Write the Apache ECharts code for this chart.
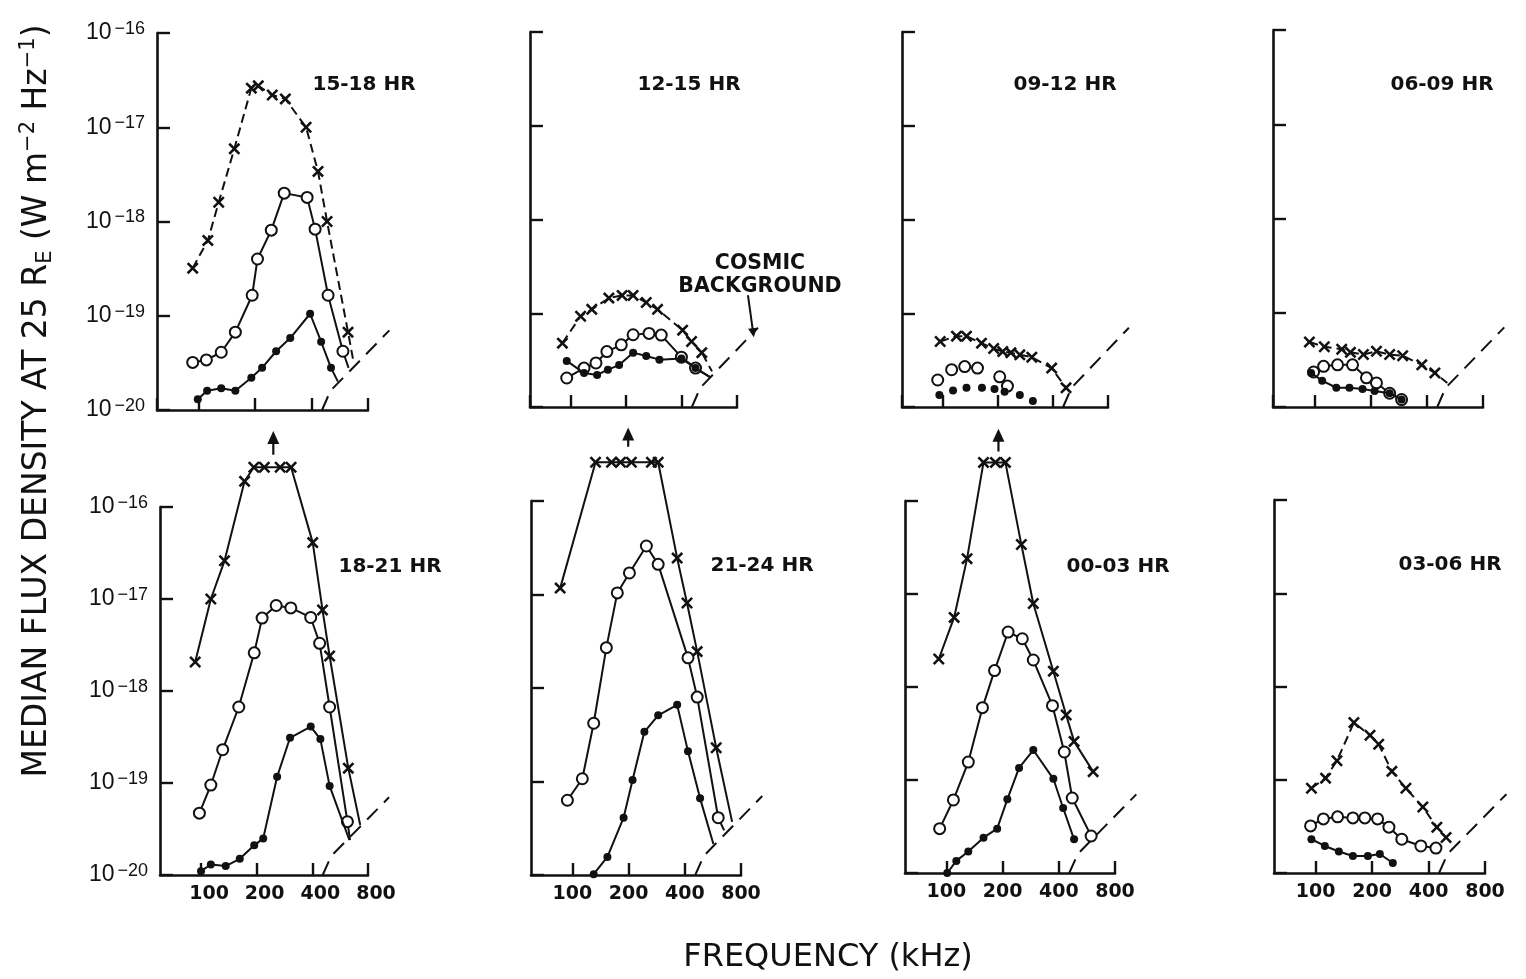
<!DOCTYPE html>
<html>
<head>
<meta charset="utf-8">
<script src="https://cdn.jsdelivr.net/npm/echarts@6/dist/echarts.min.js"></script>
<style>
html,body{margin:0;padding:0;background:#fff;}
#chart{width:1526px;height:979px;}
</style>
</head>
<body>
<div id="chart"></div>
<script>
// ---------------- DATA (frequency in kHz, flux in W m^-2 Hz^-1) ----------------
const PANEL_TITLES = ['15-18 HR', '12-15 HR', '09-12 HR', '06-09 HR', '18-21 HR', '21-24 HR', '00-03 HR', '03-06 HR'];
const X_TICK_LABELS_KHZ = [100, 200, 400, 800];
const Y_TICK_EXPONENTS = [-20, -19, -18, -17, -16];

// cosmic background (dashed curve), same in every panel
const COSMIC_F = [455, 505, 1040];
const COSMIC_V = [1.0e-20, 1.6e-20, 7.0e-20];
// "COSMIC BACKGROUND" pointer (12-15 HR panel)
const COSMIC_LABEL = 'COSMIC\nBACKGROUND';
const COSMIC_POINTER_F = [918, 979];
const COSMIC_POINTER_V = [1.55e-19, 6.2e-20];

// 15-18 HR
const P1_CROSS_F = [93, 112, 128, 155, 191, 208, 247, 290, 374, 433, 484, 626];
const P1_CROSS_V = [3.2e-19, 6.3e-19, 1.6e-18, 5.9e-18, 2.6e-17, 2.75e-17, 2.2e-17, 2.0e-17, 1.0e-17, 3.4e-18, 1.0e-18, 6.7e-20];
const P1_CROSS_END = [665, 3.5e-20];
const P1_OPEN_F = [93, 110, 132, 157, 193, 206, 244, 286, 379, 418, 490, 588];
const P1_OPEN_V = [3.2e-20, 3.4e-20, 4.1e-20, 6.7e-20, 1.65e-19, 4.0e-19, 8.1e-19, 2.0e-18, 1.8e-18, 8.3e-19, 1.65e-19, 4.2e-20];
const P1_OPEN_END = [630, 2.8e-20];
const P1_DOT_F = [99, 111, 132, 157, 191, 218, 259, 308, 393, 450, 508];
const P1_DOT_V = [1.3e-20, 1.6e-20, 1.7e-20, 1.6e-20, 2.2e-20, 2.8e-20, 4.2e-20, 5.8e-20, 1.05e-19, 5.3e-20, 2.8e-20];
const P1_DOT_END = [553, 2.0e-20];

// 12-15 HR
const P2_CROSS_F = [90, 113, 130, 161, 190, 218, 257, 296, 405, 453, 515];
const P2_CROSS_V = [4.8e-20, 9.3e-20, 1.1e-19, 1.45e-19, 1.55e-19, 1.55e-19, 1.3e-19, 1.1e-19, 6.6e-20, 5.0e-20, 3.8e-20];
const P2_CROSS_END = [585, 2.4e-20];
const P2_OPEN_F = [95, 118, 137, 157, 188, 218, 266, 310, 399, 476];
const P2_OPEN_V = [2.04e-20, 2.6e-20, 2.95e-20, 3.9e-20, 4.6e-20, 5.9e-20, 6.1e-20, 5.85e-20, 3.4e-20, 2.6e-20];
const P2_OPEN_END = [568, 2.1e-20];
const P2_DOT_F = [95, 118, 139, 159, 183, 218, 257, 303, 399, 476];
const P2_DOT_V = [3.1e-20, 2.3e-20, 2.2e-20, 2.5e-20, 2.8e-20, 3.8e-20, 3.5e-20, 3.2e-20, 3.3e-20, 2.6e-20];
const P2_DOT_END = [568, 2.1e-20];

// 09-12 HR
const P3_CROSS_F = [97, 119, 135, 163, 190, 213, 236, 264, 307, 394, 472];
const P3_CROSS_V = [5.0e-20, 5.7e-20, 5.7e-20, 4.8e-20, 4.2e-20, 3.9e-20, 3.8e-20, 3.6e-20, 3.4e-20, 2.6e-20, 1.6e-20];
const P3_OPEN_F = [94, 112, 132, 155, 205, 226];
const P3_OPEN_V = [1.94e-20, 2.5e-20, 2.7e-20, 2.6e-20, 2.1e-20, 1.67e-20];
const P3_DOT_F = [96, 114, 135, 164, 192, 218, 264, 311];
const P3_DOT_V = [1.34e-20, 1.5e-20, 1.6e-20, 1.6e-20, 1.56e-20, 1.45e-20, 1.34e-20, 1.16e-20];

// 06-09 HR
const P4_CROSS_F = [94, 113, 140, 156, 183, 215, 253, 297, 376, 442];
const P4_CROSS_V = [4.9e-20, 4.35e-20, 4.1e-20, 3.8e-20, 3.6e-20, 3.9e-20, 3.6e-20, 3.5e-20, 2.8e-20, 2.3e-20];
const P4_CROSS_END = [515, 1.8e-20];
const P4_OPEN_F = [99, 112, 133, 160, 190, 215, 253, 293];
const P4_OPEN_V = [2.35e-20, 2.7e-20, 2.8e-20, 2.8e-20, 2.04e-20, 1.8e-20, 1.4e-20, 1.2e-20];
const P4_DOT_F = [96, 110, 131, 154, 181, 210, 253, 293];
const P4_DOT_V = [2.3e-20, 1.9e-20, 1.6e-20, 1.6e-20, 1.55e-20, 1.48e-20, 1.4e-20, 1.2e-20];

// 18-21 HR
const P5_CROSS_F = [93, 113, 134, 172, 193, 220, 268, 307, 402, 454, 496, 626];
const P5_CROSS_V = [2.07e-18, 1.0e-17, 2.6e-17, 1.9e-16, 2.7e-16, 2.7e-16, 2.7e-16, 2.7e-16, 4.1e-17, 7.6e-18, 2.4e-18, 1.45e-19];
const P5_CROSS_END = [726, 3.5e-20];
const P5_OPEN_F = [98, 113, 131, 160, 194, 214, 255, 306, 392, 438, 496, 619];
const P5_OPEN_V = [4.7e-20, 9.5e-20, 2.3e-19, 6.7e-19, 2.6e-18, 6.2e-18, 8.5e-18, 8.0e-18, 6.3e-18, 3.3e-18, 6.7e-19, 3.8e-20];
const P5_OPEN_END = [640, 2.4e-20];
const P5_DOT_F = [100, 113, 136, 162, 194, 217, 258, 303, 392, 442, 496];
const P5_DOT_V = [1.1e-20, 1.3e-20, 1.25e-20, 1.5e-20, 2.1e-20, 2.5e-20, 1.17e-19, 3.1e-19, 4.1e-19, 3.0e-19, 9.3e-20];
const P5_DOT_END = [634, 2.4e-20];
const P5_ARROW_F = [246, 246];
const P5_ARROW_V = [3.7e-16, 5.7e-16];

// 21-24 HR
const P6_CROSS_F = [86, 133, 162, 181, 207, 265, 288, 364, 411, 466, 589];
const P6_CROSS_V = [1.17e-17, 2.6e-16, 2.6e-16, 2.6e-16, 2.6e-16, 2.6e-16, 2.6e-16, 2.45e-17, 8.1e-18, 2.45e-18, 2.3e-19];
const P6_CROSS_END = [717, 3.7e-20];
const P6_OPEN_F = [94, 113, 130, 152, 174, 202, 249, 288, 416, 466, 604];
const P6_OPEN_V = [6.3e-20, 1.07e-19, 4.2e-19, 2.7e-18, 1.04e-17, 1.7e-17, 3.3e-17, 2.1e-17, 2.1e-18, 8.0e-19, 4.1e-20];
const P6_OPEN_END = [650, 3.0e-20];
const P6_DOT_F = [130, 154, 188, 210, 243, 288, 364, 416, 483];
const P6_DOT_V = [1.02e-20, 1.56e-20, 4.1e-20, 1.04e-19, 3.4e-19, 5.1e-19, 6.6e-19, 2.1e-19, 6.6e-20];
const P6_DOT_END = [569, 2.15e-20];
const P6_ARROW_F = [199, 199];
const P6_ARROW_V = [3.8e-16, 5.2e-16];

// 00-03 HR
const P7_CROSS_F = [91, 110, 129, 158, 183, 207, 252, 292, 374, 438, 483, 611];
const P7_CROSS_V = [2.0e-18, 5.6e-18, 2.4e-17, 2.6e-16, 2.6e-16, 2.6e-16, 3.4e-17, 7.9e-18, 1.48e-18, 5.0e-19, 2.6e-19, 1.23e-19];
const P7_OPEN_F = [92, 109, 131, 156, 181, 214, 255, 292, 370, 428, 472, 596];
const P7_OPEN_V = [3.0e-20, 6.1e-20, 1.56e-19, 6.0e-19, 1.5e-18, 3.9e-18, 3.3e-18, 1.95e-18, 6.3e-19, 2.0e-19, 6.4e-20, 2.5e-20];
const P7_DOT_F = [101, 113, 131, 158, 187, 212, 245, 292, 374, 422, 483];
const P7_DOT_V = [1.0e-20, 1.35e-20, 1.7e-20, 2.4e-20, 3.0e-20, 6.2e-20, 1.35e-19, 2.1e-19, 1.03e-19, 5.0e-20, 2.3e-20];
const P7_ARROW_F = [190, 190];
const P7_ARROW_V = [3.4e-16, 5.1e-16];

// 03-06 HR
const P8_CROSS_F = [95, 113, 130, 160, 195, 217, 255, 303, 373, 443, 496];
const P8_CROSS_V = [8.1e-20, 1.04e-19, 1.6e-19, 4.1e-19, 3.0e-19, 2.4e-19, 1.23e-19, 8.1e-20, 5.1e-20, 3.1e-20, 2.4e-20];
const P8_OPEN_F = [94, 110, 131, 158, 183, 214, 246, 288, 364, 438];
const P8_OPEN_V = [3.2e-20, 3.8e-20, 4.0e-20, 3.9e-20, 3.9e-20, 3.8e-20, 3.1e-20, 2.3e-20, 1.95e-20, 1.85e-20];
const P8_DOT_F = [95, 112, 133, 158, 190, 220, 258];
const P8_DOT_V = [2.3e-20, 1.95e-20, 1.7e-20, 1.52e-20, 1.52e-20, 1.6e-20, 1.28e-20];

// ---------------- LAYOUT ----------------
// [left, top, width, height] of each panel's plotting box
const GRID_BOXES = [
  [157, 33, 211, 377], [530, 32, 207, 375], [902, 32, 206, 375], [1273, 30, 210, 377],
  [160, 507, 208, 368], [531, 501, 210, 374], [905, 501, 210, 372], [1274, 500, 211, 373]
];
// centre x and top of each panel title
const TITLE_POS = [[364, 75], [689, 75], [1065, 75], [1442, 75], [390, 557], [762, 556], [1118, 557], [1450, 555]];

// ---------------- BUILD ----------------
// axes use frequency in units of 100 kHz (log base 2) and flux in units of 1e-20 W m^-2 Hz^-1
const F_UNIT = 100, V_UNIT = 1e-20;
const toPt = (f, v) => [f / F_UNIT, v / V_UNIT];
function pts(F, V, end) {
  const d = F.map((f, i) => toPt(f, V[i]));
  if (end) d.push({ value: toPt(end[0], end[1]), symbol: 'none' });
  return d;
}

const PANELS = [
  { cross: [P1_CROSS_F, P1_CROSS_V, P1_CROSS_END], open: [P1_OPEN_F, P1_OPEN_V, P1_OPEN_END], dot: [P1_DOT_F, P1_DOT_V, P1_DOT_END], dashed: true, lines: true },
  { cross: [P2_CROSS_F, P2_CROSS_V, P2_CROSS_END], open: [P2_OPEN_F, P2_OPEN_V, P2_OPEN_END], dot: [P2_DOT_F, P2_DOT_V, P2_DOT_END], dashed: true, lines: true, pointer: true },
  { cross: [P3_CROSS_F, P3_CROSS_V, null], open: [P3_OPEN_F, P3_OPEN_V, null], dot: [P3_DOT_F, P3_DOT_V, null], dashed: true, lines: false },
  { cross: [P4_CROSS_F, P4_CROSS_V, P4_CROSS_END], open: [P4_OPEN_F, P4_OPEN_V, null], dot: [P4_DOT_F, P4_DOT_V, null], dashed: true, lines: true },
  { cross: [P5_CROSS_F, P5_CROSS_V, P5_CROSS_END], open: [P5_OPEN_F, P5_OPEN_V, P5_OPEN_END], dot: [P5_DOT_F, P5_DOT_V, P5_DOT_END], dashed: false, lines: true, arrow: [P5_ARROW_F, P5_ARROW_V], labelShift: 16 },
  { cross: [P6_CROSS_F, P6_CROSS_V, P6_CROSS_END], open: [P6_OPEN_F, P6_OPEN_V, P6_OPEN_END], dot: [P6_DOT_F, P6_DOT_V, P6_DOT_END], dashed: false, lines: true, arrow: [P6_ARROW_F, P6_ARROW_V] },
  { cross: [P7_CROSS_F, P7_CROSS_V, null], open: [P7_OPEN_F, P7_OPEN_V, null], dot: [P7_DOT_F, P7_DOT_V, null], dashed: false, lines: true, arrow: [P7_ARROW_F, P7_ARROW_V] },
  { cross: [P8_CROSS_F, P8_CROSS_V, null], open: [P8_OPEN_F, P8_OPEN_V, null], dot: [P8_DOT_F, P8_DOT_V, null], dashed: true, lines: true }
];

const INK = '#111';
const CROSS_SYMBOL = 'path://M0,1.5L1.5,0L5,3.5L8.5,0L10,1.5L6.5,5L10,8.5L8.5,10L5,6.5L1.5,10L0,8.5L3.5,5Z';
const X_MIN = 60 / F_UNIT, X_MAX = 800 / F_UNIT;

const grids = [], xAxes = [], yAxes = [], series = [], titles = [];

PANELS.forEach((p, i) => {
  const [l, t, w, h] = GRID_BOXES[i];
  const bottomRow = i >= 4, firstCol = (i % 4) === 0;
  grids.push({ left: l, top: t, width: w, height: h, containLabel: false, outerBoundsMode: 'none' });
  xAxes.push({
    gridIndex: i, type: 'log', logBase: 2, min: X_MIN, max: X_MAX,
    axisLine: { show: true, lineStyle: { color: INK, width: 2.6 } },
    axisTick: { show: true, inside: true, length: 12, lineStyle: { color: INK, width: 2.4 } },
    splitLine: { show: false }, minorTick: { show: false },
    axisLabel: {
      show: bottomRow, showMinLabel: false, margin: 10, color: INK,
      fontFamily: 'DejaVu Sans', fontWeight: 'bold', fontSize: 19,
      padding: [0, 0, 0, p.labelShift || 0],
      formatter: v => {
        const k = Math.round(v * F_UNIT);
        return X_TICK_LABELS_KHZ.indexOf(k) >= 0 ? String(k) : '';
      }
    }
  });
  yAxes.push({
    gridIndex: i, type: 'log', logBase: 10, min: Math.pow(10, Y_TICK_EXPONENTS[0] + 20), max: Math.pow(10, Y_TICK_EXPONENTS[4] + 20),
    axisLine: { show: true, lineStyle: { color: INK, width: 2.6 } },
    axisTick: { show: true, inside: true, length: 13, lineStyle: { color: INK, width: 2.4 } },
    splitLine: { show: false }, minorTick: { show: false },
    axisLabel: {
      show: firstCol, margin: 12, color: INK,
      formatter: v => {
        const e = Math.round(Math.log10(v)) - 20;
        return '{a|10}{b|\u2212' + (-e) + '}';
      },
      rich: {
        a: { fontFamily: 'Liberation Sans', fontSize: 23, lineHeight: 26, color: INK },
        b: { fontFamily: 'Liberation Sans', fontSize: 18, lineHeight: 14, verticalAlign: 'top', color: INK, padding: [0, 0, 0, 3] }
      }
    }
  });
  titles.push({
    text: PANEL_TITLES[i], left: TITLE_POS[i][0], top: TITLE_POS[i][1], textAlign: 'center', padding: 0,
    textStyle: { fontFamily: 'DejaVu Sans', fontWeight: 'bold', fontSize: 20, color: INK }
  });

  const common = { xAxisIndex: i, yAxisIndex: i, clip: false, silent: true, animation: false, z: 3 };
  // cosmic background (lines series so it may run past the 800 kHz end of the axis)
  series.push({
    type: 'lines', coordinateSystem: 'cartesian2d', xAxisIndex: i, yAxisIndex: i, polyline: true,
    clip: false, silent: true, animation: false, z: 2,
    data: [{ coords: pts(COSMIC_F, COSMIC_V) }],
    lineStyle: { color: INK, width: 2, type: [15, 9], opacity: 1, curveness: 0 }
  });
  // crosses
  series.push(Object.assign({}, common, {
    type: 'line', data: pts(...p.cross), symbol: CROSS_SYMBOL, symbolSize: 12, showAllSymbol: true,
    itemStyle: { color: INK, borderWidth: 0, opacity: 1 },
    lineStyle: { color: INK, width: 2, type: p.dashed ? [9, 5] : 'solid' }
  }));
  // open circles
  series.push(Object.assign({}, common, {
    type: p.lines ? 'line' : 'scatter', data: pts(...p.open), symbol: 'emptyCircle', symbolSize: 11, showAllSymbol: true,
    itemStyle: { color: INK, borderColor: INK, borderWidth: 2, opacity: 1 },
    lineStyle: { color: INK, width: 2 }
  }));
  // filled dots
  series.push(Object.assign({}, common, {
    type: p.lines ? 'line' : 'scatter', data: pts(...p.dot), symbol: 'circle', symbolSize: 8, showAllSymbol: true,
    itemStyle: { color: INK, opacity: 1 },
    lineStyle: { color: INK, width: 2 }, z: 4
  }));
  // off-scale arrow
  if (p.arrow) {
    const [af, av] = p.arrow;
    series.push(Object.assign({}, common, {
      type: 'line', showAllSymbol: true,
      data: [
        { value: toPt(af[0], av[0]), symbol: 'none' },
        { value: toPt(af[1], av[1]), symbol: 'triangle', symbolSize: [12, 13] }
      ],
      itemStyle: { color: INK }, lineStyle: { color: INK, width: 2.2 }
    }));
  }
  // cosmic background pointer with its label
  if (p.pointer) {
    series.push({
      type: 'lines', coordinateSystem: 'cartesian2d', xAxisIndex: i, yAxisIndex: i,
      clip: false, silent: true, animation: false, z: 3,
      symbol: ['none', 'triangle'], symbolSize: 9,
      data: [{ coords: [toPt(COSMIC_POINTER_F[0], COSMIC_POINTER_V[0]), toPt(COSMIC_POINTER_F[1], COSMIC_POINTER_V[1])] }],
      lineStyle: { color: INK, width: 2, opacity: 1, curveness: 0 }
    });
    series.push(Object.assign({}, common, {
      type: 'scatter', symbol: 'circle', symbolSize: 1,
      itemStyle: { color: INK, opacity: 1 },
      data: [{
        value: toPt(COSMIC_POINTER_F[0], COSMIC_POINTER_V[0]),
        label: {
          show: true, position: 'top', distance: 1, offset: [12, 4], formatter: COSMIC_LABEL,
          fontFamily: 'DejaVu Sans', fontWeight: 'bold', fontSize: 20.5, lineHeight: 23, color: INK, align: 'center', opacity: 1
        }
      }]
    }));
  }
});

const chart = echarts.init(document.getElementById('chart'), null, { renderer: 'canvas' });
chart.setOption({
  backgroundColor: '#fff',
  animation: false,
  textStyle: { fontFamily: 'DejaVu Sans', color: INK },
  title: titles,
  grid: grids,
  xAxis: xAxes,
  yAxis: yAxes,
  series: series,
  graphic: [
    {
      type: 'text', x: 37, y: 401, rotation: Math.PI / 2,
      style: {
        text: '{m|MEDIAN FLUX DENSITY AT 25 R}{sub|E}{m| (W m}{sup|\u22122}{m| Hz}{sup|\u22121}{m|)}',
        align: 'center', verticalAlign: 'middle', fill: INK,
        rich: {
          m: { fontFamily: 'DejaVu Sans', fontSize: 33, lineHeight: 38, fill: INK, color: INK },
          sub: { fontFamily: 'DejaVu Sans', fontSize: 21, lineHeight: 21, verticalAlign: 'bottom', fill: INK, color: INK },
          sup: { fontFamily: 'DejaVu Sans', fontSize: 21, lineHeight: 21, verticalAlign: 'top', fill: INK, color: INK }
        }
      }
    },
    {
      type: 'text', x: 828, y: 958,
      style: { text: 'FREQUENCY (kHz)', fontFamily: 'DejaVu Sans', fontSize: 32, fill: INK, align: 'center', verticalAlign: 'middle' }
    }
  ]
});
</script>
</body>
</html>
